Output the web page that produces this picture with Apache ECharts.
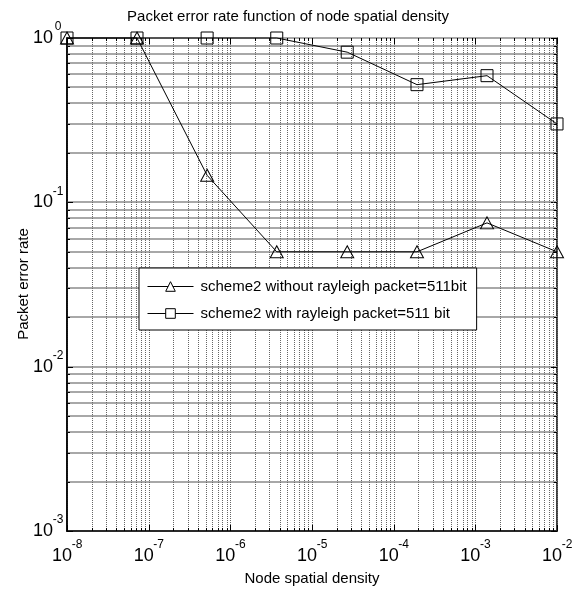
<!DOCTYPE html>
<html>
<head>
<meta charset="utf-8">
<script src="https://cdn.jsdelivr.net/npm/echarts@6/dist/echarts.min.js"></script>
<style>
  html, body { margin: 0; padding: 0; background: #fff; }
  #chart { width: 576px; height: 591px; }
</style>
</head>
<body>
<div id="chart"></div>
<script>
// Node spatial density samples (log-spaced, 1e-8 .. 1e-2)
const density = [1e-8, 7.2e-8, 5.2e-7, 3.7e-6, 2.7e-5, 1.93e-4, 1.39e-3, 1e-2];
// Packet error rate, scheme2 without Rayleigh fading
const perWithout = [1, 1, 0.146, 0.05, 0.05, 0.05, 0.075, 0.05];
// Packet error rate, scheme2 with Rayleigh fading
const perWith = [1, 1, 1, 1, 0.82, 0.52, 0.59, 0.3];
const seriesNames = [
  'scheme2 without rayleigh packet=511bit',
  'scheme2 with rayleigh packet=511 bit'
];
// Decade exponents for both axes
const xDecades = [-8, -7, -6, -5, -4, -3, -2];
const yDecades = [-3, -2, -1, 0];

const FONT = "'Liberation Sans Narrow', 'Arial Narrow', 'Liberation Sans', Arial, sans-serif";

// Grid positions: every 1..9 multiple inside each decade
function gridValues(decades) {
  const out = [];
  for (let i = 0; i < decades.length; i++) {
    const base = Math.pow(10, decades[i]);
    out.push({ v: base, major: true });
    if (i < decades.length - 1) {
      for (let m = 2; m <= 9; m++) out.push({ v: m * base, major: false });
    }
  }
  return out;
}
const xGrid = gridValues(xDecades);
const yGrid = gridValues(yDecades);

// "10" with the decade exponent raised as a superscript
function powLabel(v) {
  const e = Math.round(Math.log10(v));
  return '{b|10}{e|' + e + '}';
}
const labelRich = {
  b: { fontFamily: FONT, fontSize: 18, color: '#000', verticalAlign: 'bottom', lineHeight: 18 },
  e: { fontFamily: FONT, fontSize: 12, color: '#000', verticalAlign: 'top',
       width: 10, align: 'left', padding: [0, 0, 14, 0] }
};

const chart = echarts.init(document.getElementById('chart'), null, { renderer: 'canvas' });

// Vertical grid lines with inward ticks on bottom and top edges
function renderXGrid(params, api) {
  const cs = params.coordSys;
  const x = Math.round(api.coord([api.value(0), 1])[0]) + 0.5;
  const major = api.value(1) === 1;
  const len = major ? 6 : 3;
  const top = cs.y, bot = cs.y + cs.height;
  return {
    type: 'group',
    children: [
      { type: 'line', shape: { x1: x, y1: top, x2: x, y2: bot },
        style: { stroke: '#666', lineWidth: 1, lineDash: [1, 1] } },
      { type: 'line', shape: { x1: x, y1: bot, x2: x, y2: bot - len },
        style: { stroke: '#000', lineWidth: 1 } },
      { type: 'line', shape: { x1: x, y1: top, x2: x, y2: top + len },
        style: { stroke: '#000', lineWidth: 1 } }
    ]
  };
}
// Horizontal grid lines with inward ticks on left and right edges
function renderYGrid(params, api) {
  const cs = params.coordSys;
  const y = Math.round(api.coord([1e-8, api.value(0)])[1]);
  const major = api.value(1) === 1;
  const len = major ? 6 : 3;
  const left = cs.x, right = cs.x + cs.width;
  return {
    type: 'group',
    children: [
      { type: 'line', shape: { x1: left, y1: y, x2: right, y2: y },
        style: { stroke: '#a8a8a8', lineWidth: 2 } },
      { type: 'line', shape: { x1: left, y1: y + 0.5, x2: left + len, y2: y + 0.5 },
        style: { stroke: '#000', lineWidth: 1 } },
      { type: 'line', shape: { x1: right, y1: y + 0.5, x2: right - len, y2: y + 0.5 },
        style: { stroke: '#000', lineWidth: 1 } }
    ]
  };
}

const option = {
  backgroundColor: '#fff',
  animation: false,
  title: {
    text: 'Packet error rate function of node spatial density',
    left: 'center',
    top: 4,
    textStyle: { fontFamily: FONT, fontSize: 15, fontWeight: 'normal', color: '#000' }
  },
  // Rotated y-axis title
  graphic: [{
    type: 'text',
    x: 24,
    y: 284,
    rotation: Math.PI / 2,
    silent: true,
    style: {
      text: 'Packet error rate',
      fontFamily: FONT,
      fontSize: 15,
      fill: '#000',
      align: 'center',
      verticalAlign: 'middle'
    }
  }],
  grid: { left: 67, right: 19, top: 38, bottom: 60, show: true, borderColor: '#000', borderWidth: 1.5 },
  legend: {
    data: seriesNames,
    orient: 'vertical',
    left: 139,
    top: 268,
    width: 335,
    backgroundColor: '#fff',
    borderColor: '#000',
    borderWidth: 1,
    padding: [11, 10, 9, 8],
    itemGap: 12,
    itemWidth: 46,
    itemHeight: 12,
    lineStyle: { width: 1, color: '#000' },
    itemStyle: { borderWidth: 1, borderColor: '#000', color: '#fff' },
    textStyle: { fontFamily: FONT, fontSize: 15, color: '#000', padding: [0, 0, 0, 2] }
  },
  xAxis: {
    type: 'log',
    logBase: 10,
    min: 1e-8,
    max: 1e-2,
    name: 'Node spatial density',
    nameLocation: 'middle',
    nameGap: 40,
    nameTextStyle: { fontFamily: FONT, fontSize: 15, color: '#000' },
    axisLine: { show: true, lineStyle: { color: '#000', width: 1.5 } },
    axisTick: { show: false },
    splitLine: { show: false },
    axisLabel: { formatter: powLabel, rich: labelRich, margin: 8 }
  },
  yAxis: {
    type: 'log',
    logBase: 10,
    min: 1e-3,
    max: 1,
    axisLine: { show: true, lineStyle: { color: '#000', width: 1.5 } },
    axisTick: { show: false },
    splitLine: { show: false },
    axisLabel: { formatter: powLabel, rich: labelRich, margin: 4, padding: [0, 0, 8, 0] }
  },
  series: [
    {
      type: 'custom',
      silent: true,
      z: 0,
      renderItem: renderYGrid,
      encode: { x: -1, y: 0 },
      data: yGrid.map(g => [g.v, g.major ? 1 : 0]),
      clip: false
    },
    {
      type: 'custom',
      silent: true,
      z: 0,
      renderItem: renderXGrid,
      encode: { x: 0, y: -1 },
      data: xGrid.map(g => [g.v, g.major ? 1 : 0]),
      clip: false
    },
    {
      name: seriesNames[0],
      type: 'line',
      z: 5,
      data: density.map((d, i) => [d, perWithout[i]]),
      symbol: 'triangle',
      symbolSize: [13, 12],
      showAllSymbol: true,
      lineStyle: { color: '#000', width: 1 },
      itemStyle: { color: 'rgba(255,255,255,0)', borderColor: '#000', borderWidth: 1 },
      clip: false
    },
    {
      name: seriesNames[1],
      type: 'line',
      z: 6,
      data: density.map((d, i) => [d, perWith[i]]),
      symbol: 'rect',
      symbolSize: 12,
      showAllSymbol: true,
      lineStyle: { color: '#000', width: 1 },
      itemStyle: { color: 'rgba(255,255,255,0)', borderColor: '#000', borderWidth: 1 },
      clip: false
    }
  ]
};
chart.setOption(option);
</script>
</body>
</html>
